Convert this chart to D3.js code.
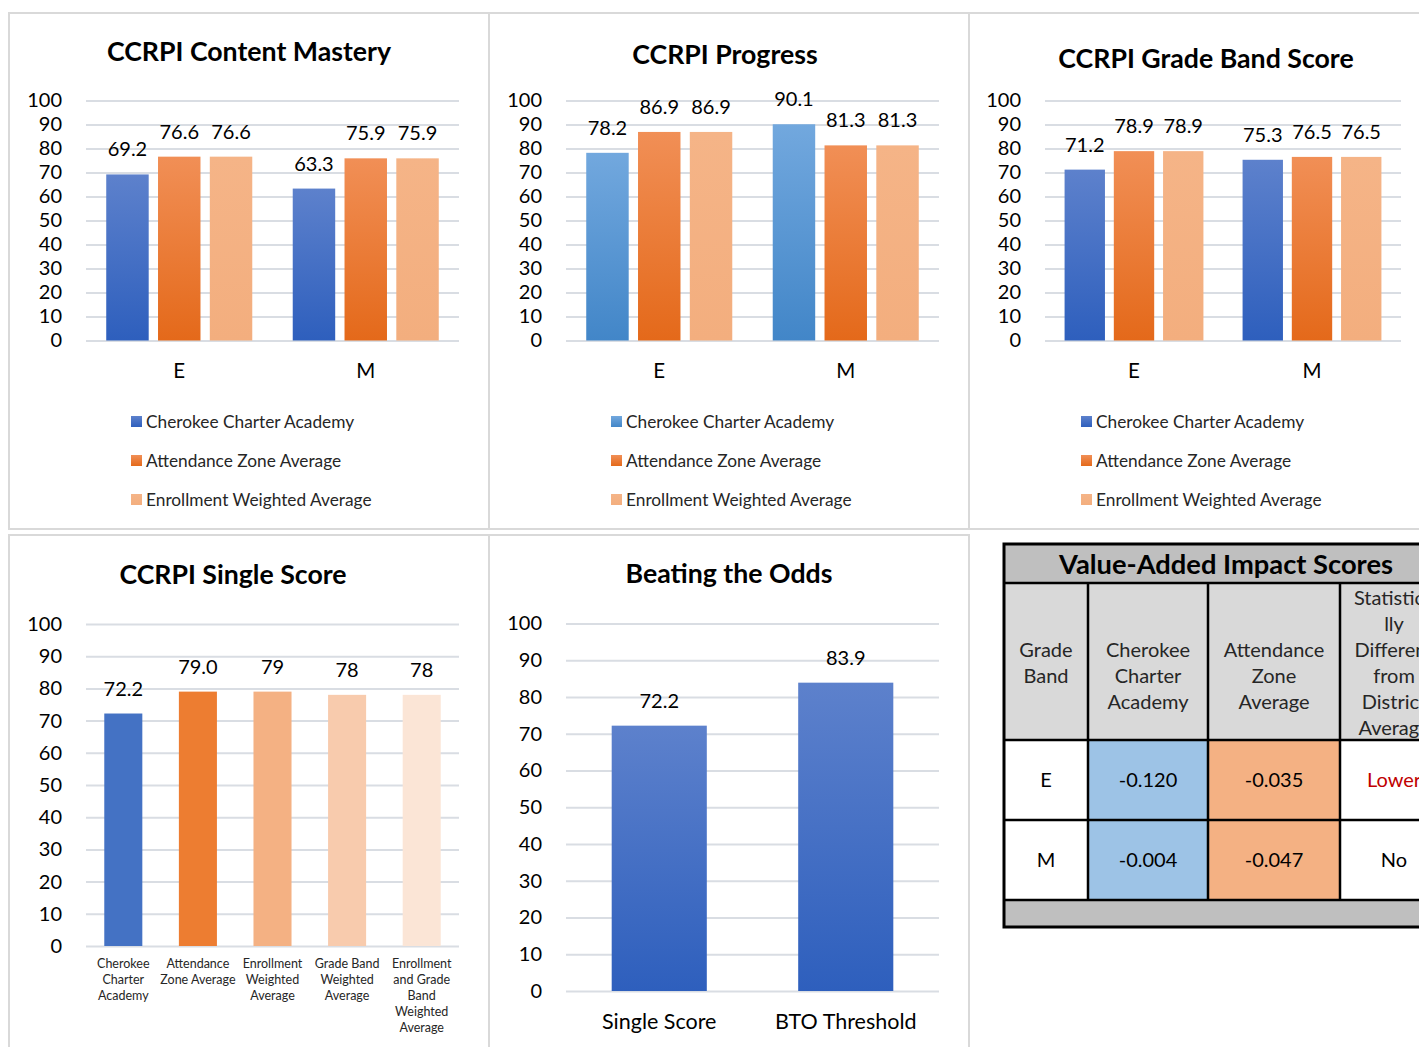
<!DOCTYPE html>
<html>
<head>
<meta charset="utf-8">
<script src="https://cdn.jsdelivr.net/npm/d3@7"></script>
<style>
  html, body { margin: 0; padding: 0; background: #ffffff; }
  svg { display: block; font-family: Lato, "Open Sans", sans-serif; }
</style>
</head>
<body>
<svg id="chart" width="1419" height="1047"></svg>
<script>
// ---------------- DATA ----------------
const seriesNames = ["Cherokee Charter Academy", "Attendance Zone Average", "Enrollment Weighted Average"];
const gradeBands = ["E", "M"];
const yTicks = [0, 10, 20, 30, 40, 50, 60, 70, 80, 90, 100];

const contentMasteryCCA = [69.2, 63.3];
const contentMasteryAZ  = [76.6, 75.9];
const contentMasteryEW  = [76.6, 75.9];

const progressCCA = [78.2, 90.1];
const progressAZ  = [86.9, 81.3];
const progressEW  = [86.9, 81.3];

const gradeBandCCA = [71.2, 75.3];
const gradeBandAZ  = [78.9, 76.5];
const gradeBandEW  = [78.9, 76.5];

const singleCategories = [
  ["Cherokee", "Charter", "Academy"],
  ["Attendance", "Zone Average"],
  ["Enrollment", "Weighted", "Average"],
  ["Grade Band", "Weighted", "Average"],
  ["Enrollment", "and Grade", "Band", "Weighted", "Average"]
];
const singleValues = [72.2, 79.0, 79, 78, 78];
const singleLabels = ["72.2", "79.0", "79", "78", "78"];

const btoCategories = ["Single Score", "BTO Threshold"];
const btoValues = [72.2, 83.9];

const tableTitle = "Value-Added Impact Scores";
const tableHeaders = [
  ["Grade", "Band"],
  ["Cherokee", "Charter", "Academy"],
  ["Attendance", "Zone", "Average"],
  ["Statistica", "lly", "Different", "from", "District", "Average"]
];
const tableGradeBands = ["E", "M"];
const tableCCA = ["-0.120", "-0.004"];
const tableAZ = ["-0.035", "-0.047"];
const tableDifferent = ["Lower", "No"];

// ---------------- DRAWING ----------------
const svg = d3.select("#chart");
const defs = svg.append("defs");
function grad(id, top, bottom) {
  const g = defs.append("linearGradient").attr("id", id)
    .attr("x1", 0).attr("y1", 0).attr("x2", 0).attr("y2", 1);
  g.append("stop").attr("offset", "0%").attr("stop-color", top);
  g.append("stop").attr("offset", "100%").attr("stop-color", bottom);
}
grad("gBlue", "#5d81cc", "#2e5fbd");
grad("gBlueLight", "#72a8de", "#4286c8");
grad("gOrange", "#f18f56", "#e4691a");
grad("gPeach", "#f5b487", "#f3ae7e");

const gridColor = "#d9dde3";
const borderColor = "#d9d9d9";
const titleSize = 26.7;

// panel borders
const frame = svg.append("g").attr("fill", "none").attr("stroke", borderColor).attr("stroke-width", 2);
frame.append("rect").attr("x", 9).attr("y", 13).attr("width", 480).attr("height", 516);
frame.append("rect").attr("x", 489).attr("y", 13).attr("width", 480).attr("height", 516);
frame.append("rect").attr("x", 969).attr("y", 13).attr("width", 470).attr("height", 516);
frame.append("rect").attr("x", 9).attr("y", 535).attr("width", 480).attr("height", 530);
frame.append("rect").attr("x", 489).attr("y", 535).attr("width", 480).attr("height", 530);

function yAxis(g, y, x0, x1) {
  const ax = g.append("g").attr("transform", `translate(${x0},0)`)
    .call(d3.axisLeft(y).tickValues(yTicks).tickSize(-(x1 - x0)).tickPadding(24));
  ax.select(".domain").remove();
  ax.selectAll(".tick line").attr("stroke", gridColor).attr("stroke-width", 2);
  ax.selectAll(".tick text").attr("font-size", 20).attr("fill", "#000")
    .attr("font-family", "Lato, sans-serif");
}

function groupedChart(opt) {
  const g = svg.append("g");
  const y = d3.scaleLinear().domain([0, 100]).range([340.5, 100.5]);
  yAxis(g, y, opt.x0, opt.x1);
  const x0 = d3.scaleBand().domain(gradeBands).range([opt.x0, opt.x1])
    .paddingInner(opt.pad).paddingOuter(opt.pad / 2);
  const x1 = d3.scaleBand().domain(seriesNames).range([0, x0.bandwidth()]).paddingInner(0.18);
  const fills = [opt.blue, "url(#gOrange)", "url(#gPeach)"];
  const rows = [];
  gradeBands.forEach((b, i) => opt.series.forEach((s, j) => rows.push({b, name: seriesNames[j], v: s[i], j})));
  g.selectAll("rect.bar").data(rows).join("rect").attr("class", "bar")
    .attr("x", d => x0(d.b) + x1(d.name)).attr("width", x1.bandwidth())
    .attr("y", d => y(d.v)).attr("height", d => y(0) - y(d.v))
    .attr("fill", d => fills[d.j]);
  g.selectAll("text.lbl").data(rows).join("text").attr("class", "lbl")
    .attr("x", d => x0(d.b) + x1(d.name) + x1.bandwidth() / 2)
    .attr("y", d => y(d.v) - 18).attr("text-anchor", "middle")
    .attr("font-size", 20).text(d => d3.format(".1f")(d.v));
  const xa = g.append("g").attr("transform", "translate(0,378)")
    .call(d3.axisBottom(x0).tickSize(0).tickPadding(0));
  xa.select(".domain").remove();
  xa.selectAll(".tick text").attr("dy", 0).attr("y", 0).attr("font-size", 20.5)
    .attr("fill", "#000").attr("font-family", "Lato, sans-serif");
  // title
  g.append("text").attr("x", opt.tx).attr("y", opt.ty).attr("text-anchor", "middle")
    .attr("font-size", titleSize).attr("font-weight", "bold").text(opt.title);
  // legend
  const leg = g.append("g");
  seriesNames.forEach((n, j) => {
    leg.append("rect").attr("x", opt.lx).attr("y", 416 + j * 39).attr("width", 11).attr("height", 11)
      .attr("fill", fills[j]);
    leg.append("text").attr("x", opt.lx + 15).attr("y", 428 + j * 39).attr("font-size", 17.3)
      .attr("fill", "#262626").text(n);
  });
}

groupedChart({title: "CCRPI Content Mastery", tx: 249, ty: 61, x0: 86, x1: 459, pad: 0.217,
  series: [contentMasteryCCA, contentMasteryAZ, contentMasteryEW], blue: "url(#gBlue)", lx: 131});
groupedChart({title: "CCRPI Progress", tx: 725, ty: 64, x0: 566, x1: 939, pad: 0.217,
  series: [progressCCA, progressAZ, progressEW], blue: "url(#gBlueLight)", lx: 611});
groupedChart({title: "CCRPI Grade Band Score", tx: 1206, ty: 68, x0: 1045, x1: 1401, pad: 0.22,
  series: [gradeBandCCA, gradeBandAZ, gradeBandEW], blue: "url(#gBlue)", lx: 1081});

// ---- Single score chart ----
(function () {
  const g = svg.append("g");
  const y = d3.scaleLinear().domain([0, 100]).range([946, 624]);
  yAxis(g, y, 86, 459);
  const idx = singleCategories.map((_, i) => i);
  const x = d3.scaleBand().domain(idx).range([86, 459]).paddingInner(0.49).paddingOuter(0.245);
  const colors = ["#4472c4", "#ed7d31", "#f4b183", "#f8cbad", "#fbe5d6"];
  g.selectAll("rect.bar").data(idx).join("rect").attr("class", "bar")
    .attr("x", i => x(i)).attr("width", x.bandwidth())
    .attr("y", i => y(singleValues[i])).attr("height", i => y(0) - y(singleValues[i]))
    .attr("fill", i => colors[i]);
  g.selectAll("text.lbl").data(idx).join("text").attr("class", "lbl")
    .attr("x", i => x(i) + x.bandwidth() / 2).attr("y", i => y(singleValues[i]) - 18)
    .attr("text-anchor", "middle").attr("font-size", 20).text(i => singleLabels[i]);
  const xa = g.append("g").attr("transform", "translate(0,968)")
    .call(d3.axisBottom(x).tickSize(0).tickPadding(0).tickFormat(""));
  xa.select(".domain").remove();
  xa.selectAll(".tick text").attr("dy", 0).attr("y", 0).attr("font-size", 12.5)
    .attr("fill", "#262626").attr("font-family", "Lato, sans-serif")
    .each(function (i) {
      const t = d3.select(this);
      singleCategories[i].forEach((line, k) => {
        t.append("tspan").attr("x", 0).attr("y", k * 16).text(line);
      });
    });
  g.append("text").attr("x", 233).attr("y", 584).attr("text-anchor", "middle")
    .attr("font-size", titleSize).attr("font-weight", "bold").text("CCRPI Single Score");
})();

// ---- Beating the odds ----
(function () {
  const g = svg.append("g");
  const y = d3.scaleLinear().domain([0, 100]).range([991, 623.5]);
  yAxis(g, y, 566, 939);
  const x = d3.scaleBand().domain(btoCategories).range([566, 939]).paddingInner(0.49).paddingOuter(0.245);
  g.selectAll("rect.bar").data(btoCategories).join("rect").attr("class", "bar")
    .attr("x", d => x(d)).attr("width", x.bandwidth())
    .attr("y", (d, i) => y(btoValues[i])).attr("height", (d, i) => y(0) - y(btoValues[i]))
    .attr("fill", "url(#gBlue)");
  g.selectAll("text.lbl").data(btoCategories).join("text").attr("class", "lbl")
    .attr("x", d => x(d) + x.bandwidth() / 2).attr("y", (d, i) => y(btoValues[i]) - 18)
    .attr("text-anchor", "middle").attr("font-size", 20).text((d, i) => d3.format(".1f")(btoValues[i]));
  const xa = g.append("g").attr("transform", "translate(0,1029)")
    .call(d3.axisBottom(x).tickSize(0).tickPadding(0));
  xa.select(".domain").remove();
  xa.selectAll(".tick text").attr("dy", 0).attr("y", 0).attr("font-size", 21.5)
    .attr("fill", "#000").attr("font-family", "Lato, sans-serif");
  g.append("text").attr("x", 729).attr("y", 583).attr("text-anchor", "middle")
    .attr("font-size", titleSize).attr("font-weight", "bold").text("Beating the Odds");
})();

// ---- Table ----
(function () {
  const g = svg.append("g");
  const colX = [1004, 1088, 1208, 1340, 1448];
  const rowY = [544, 583, 740, 820, 900, 927];
  // backgrounds
  g.append("rect").attr("x", colX[0]).attr("y", rowY[0]).attr("width", colX[4] - colX[0])
    .attr("height", rowY[1] - rowY[0]).attr("fill", "#bfbfbf");
  g.append("rect").attr("x", colX[0]).attr("y", rowY[1]).attr("width", colX[4] - colX[0])
    .attr("height", rowY[2] - rowY[1]).attr("fill", "#d9d9d9");
  g.append("rect").attr("x", colX[0]).attr("y", rowY[4]).attr("width", colX[4] - colX[0])
    .attr("height", rowY[5] - rowY[4]).attr("fill", "#bfbfbf");
  tableGradeBands.forEach((b, r) => {
    g.append("rect").attr("x", colX[1]).attr("y", rowY[2 + r]).attr("width", colX[2] - colX[1])
      .attr("height", rowY[3 + r] - rowY[2 + r]).attr("fill", "#9dc3e6");
    g.append("rect").attr("x", colX[2]).attr("y", rowY[2 + r]).attr("width", colX[3] - colX[2])
      .attr("height", rowY[3 + r] - rowY[2 + r]).attr("fill", "#f4b183");
  });
  // lines
  const ln = g.append("g").attr("stroke", "#000").attr("stroke-width", 2.5);
  rowY.slice(1, 5).forEach(yv => ln.append("line").attr("x1", colX[0]).attr("x2", colX[4]).attr("y1", yv).attr("y2", yv));
  colX.slice(1, 4).forEach(xv => ln.append("line").attr("x1", xv).attr("x2", xv).attr("y1", rowY[1]).attr("y2", rowY[4]));
  g.append("rect").attr("x", colX[0]).attr("y", rowY[0]).attr("width", colX[4] - colX[0])
    .attr("height", rowY[5] - rowY[0]).attr("fill", "none").attr("stroke", "#000").attr("stroke-width", 3);
  // title
  g.append("text").attr("x", (colX[0] + colX[4]) / 2).attr("y", 574).attr("text-anchor", "middle")
    .attr("font-size", 27.3).attr("font-weight", "bold").text(tableTitle);
  // headers
  tableHeaders.forEach((lines, c) => {
    const cx = (colX[c] + colX[c + 1]) / 2;
    const start = lines.length > 3 ? 605 : 657;
    lines.forEach((t, k) => g.append("text").attr("x", cx).attr("y", start + k * 26)
      .attr("text-anchor", "middle").attr("font-size", 20).attr("fill", "#262626").text(t));
  });
  // rows
  tableGradeBands.forEach((b, r) => {
    const yb = 787 + r * 80;
    const vals = [b, tableCCA[r], tableAZ[r], tableDifferent[r]];
    vals.forEach((v, c) => {
      g.append("text").attr("x", (colX[c] + colX[c + 1]) / 2).attr("y", yb)
        .attr("text-anchor", "middle").attr("font-size", 20)
        .attr("fill", v === "Lower" ? "#c00000" : "#000").text(v);
    });
  });
})();
</script>
</body>
</html>
